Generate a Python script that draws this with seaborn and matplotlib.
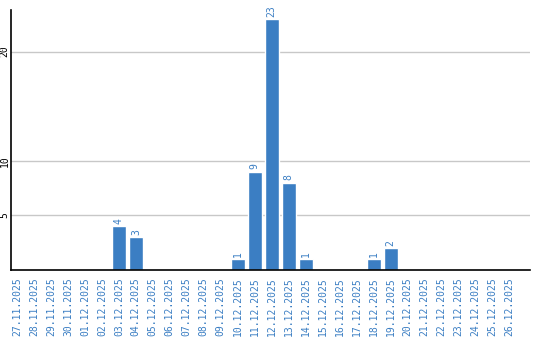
import matplotlib
matplotlib.use("Agg")
import matplotlib.pyplot as plt
import seaborn as sns
import pandas as pd

dates = ["27.11.2025", "28.11.2025", "29.11.2025", "30.11.2025", "01.12.2025",
         "02.12.2025", "03.12.2025", "04.12.2025", "05.12.2025", "06.12.2025",
         "07.12.2025", "08.12.2025", "09.12.2025", "10.12.2025", "11.12.2025",
         "12.12.2025", "13.12.2025", "14.12.2025", "15.12.2025", "16.12.2025",
         "17.12.2025", "18.12.2025", "19.12.2025", "20.12.2025", "21.12.2025",
         "22.12.2025", "23.12.2025", "24.12.2025", "25.12.2025", "26.12.2025"]
counts = [0, 0, 0, 0, 0, 0, 4, 3, 0, 0, 0, 0, 0, 1, 9, 23, 8, 1, 0, 0, 0, 1, 2,
          0, 0, 0, 0, 0, 0, 0]
yticks = [5, 10, 20]

sns.set_style("white")
plt.rcParams['font.family'] = ['DejaVu Sans Mono', 'DejaVu Sans']

blue = "#3b7ec3"
df = pd.DataFrame({"date": dates, "count": counts})

fig = plt.figure(figsize=(5.4, 3.4), dpi=100)
ax = fig.add_axes([11/540, 1-270/340, 519/540, 260/340])
sns.barplot(data=df, x="date", y="count", color=blue, saturation=1, width=0.82, ax=ax)

ax.set_xlim(-0.35, 30.2)
ax.set_ylim(0, 23.8)
ax.set_yticks(yticks)
ax.set_yticklabels([str(t) for t in yticks], rotation=90, va="center", fontsize=7, color="black")
ax.yaxis.grid(True, color="#c8c8c8", linewidth=1)
ax.set_axisbelow(True)
ax.tick_params(axis="x", length=0, pad=5, labelsize=7, labelcolor=blue, rotation=90)
ax.tick_params(axis="y", length=0, pad=1)
ax.set_xlabel("")
ax.set_ylabel("")
for s in ["top", "right"]:
    ax.spines[s].set_visible(False)
for s in ["left", "bottom"]:
    ax.spines[s].set_color("black")
    ax.spines[s].set_linewidth(1.2)

for i, v in enumerate(counts):
    if v > 0:
        ax.text(i, v + 0.2, str(v), rotation=90, ha="center", va="bottom",
                fontsize=7, color=blue)

fig.savefig("out.png", dpi=100)
